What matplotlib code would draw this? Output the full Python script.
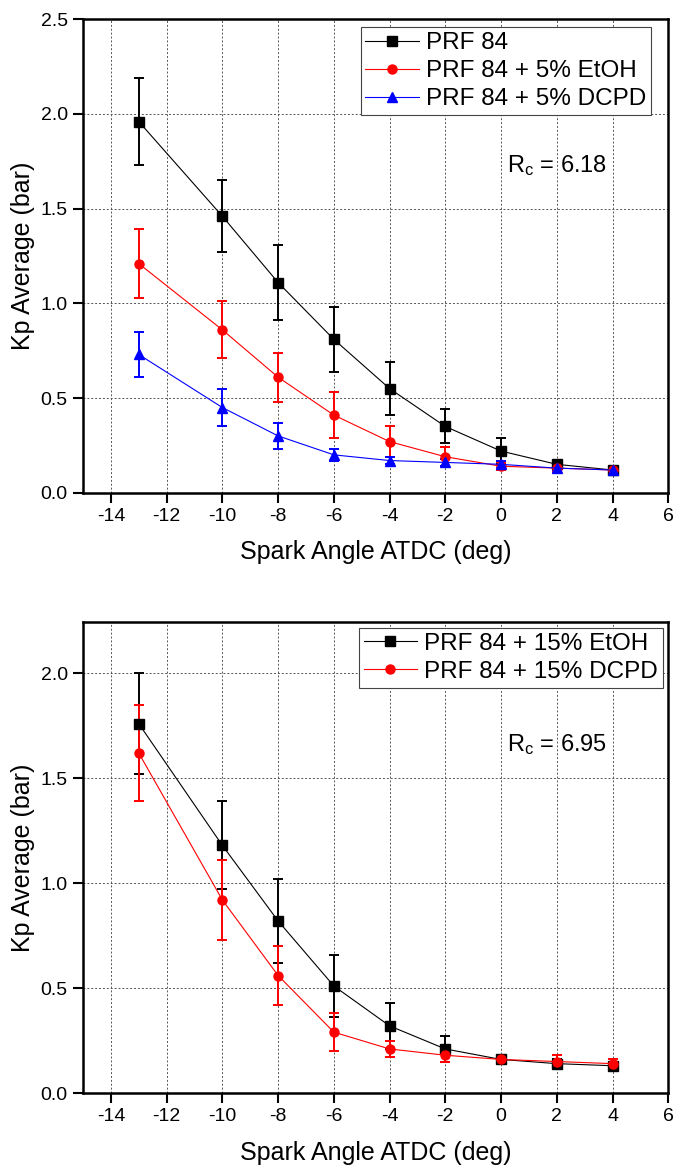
import numpy as np
import matplotlib
matplotlib.use('Agg')
import matplotlib.pyplot as plt
from matplotlib.lines import Line2D

plt.rcParams['font.family'] = ['Liberation Sans', 'DejaVu Sans']
plt.rcParams['mathtext.fontset'] = 'custom'
plt.rcParams['mathtext.rm'] = 'Liberation Sans'
plt.rcParams['mathtext.it'] = 'Liberation Sans'
plt.rcParams['axes.unicode_minus'] = False

# spark angles
angle = [-13, -10, -8, -6, -4, -2, 0, 2, 4]

# top panel (Rc = 6.18)
prf84 = [1.96, 1.46, 1.11, 0.81, 0.55, 0.35, 0.22, 0.15, 0.12]
prf84_err = [0.23, 0.19, 0.20, 0.17, 0.14, 0.09, 0.07, 0.02, 0.01]
etoh5 = [1.21, 0.86, 0.61, 0.41, 0.27, 0.19, 0.14, 0.13, 0.12]
etoh5_err = [0.18, 0.15, 0.13, 0.12, 0.08, 0.05, 0.02, 0.02, 0.01]
dcpd5 = [0.73, 0.45, 0.30, 0.20, 0.17, 0.16, 0.15, 0.13, 0.12]
dcpd5_err = [0.12, 0.10, 0.07, 0.03, 0.02, 0.02, 0.02, 0.01, 0.01]

# bottom panel (Rc = 6.95)
etoh15 = [1.76, 1.18, 0.82, 0.51, 0.32, 0.21, 0.16, 0.14, 0.13]
etoh15_err = [0.24, 0.21, 0.20, 0.15, 0.11, 0.06, 0.02, 0.02, 0.01]
dcpd15 = [1.62, 0.92, 0.56, 0.29, 0.21, 0.18, 0.16, 0.15, 0.14]
dcpd15_err = [0.23, 0.19, 0.14, 0.09, 0.04, 0.03, 0.02, 0.03, 0.02]

fig = plt.figure(figsize=(6.75, 11.69), dpi=100)
ax1 = fig.add_axes([0.123, 0.5785, 0.867, 0.405])
ax2 = fig.add_axes([0.123, 0.065, 0.867, 0.403])


def draw(ax, series, ylim, yticks, rc_text, rc_y, leg_anchor):
    handles = []
    for y, e, c, m, lab in series:
        ax.errorbar(angle, y, yerr=e, color=c, marker=m, markersize=6.5, lw=0.8,
                    elinewidth=1.4, capsize=3.5, capthick=1.4)
        handles.append(Line2D([], [], color=c, marker=m, markersize=6.5, lw=0.8, label=lab))
    ax.set_xlim(-15, 6)
    ax.set_ylim(*ylim)
    ax.set_xticks(range(-14, 7, 2))
    ax.set_yticks(yticks)
    ax.set_yticklabels(['%.1f' % t for t in yticks])
    ax.grid(True, color='#555555', linestyle=(0, (2, 2)), linewidth=0.7)
    ax.set_axisbelow(True)
    for s in ax.spines.values():
        s.set_linewidth(1.8)
    ax.tick_params(direction='out', length=7, width=1.5, labelsize=14,
                   top=False, right=False, pad=4)
    ax.set_xlabel('Spark Angle ATDC (deg)', fontsize=18, labelpad=11)
    ax.set_ylabel('Kp Average (bar)', fontsize=18, labelpad=4)
    leg = ax.legend(handles=handles, loc='upper right', bbox_to_anchor=leg_anchor,
                    fontsize=17.5, frameon=True, fancybox=False, framealpha=1,
                    handlelength=2.2, handletextpad=0.3, borderpad=0.2,
                    labelspacing=0.25, borderaxespad=0)
    leg.get_frame().set_edgecolor('#444444')
    leg.get_frame().set_linewidth(0.8)
    ax.text(0.2, rc_y, rc_text, fontsize=17, va='center')


draw(ax1, [(prf84, prf84_err, 'black', 's', 'PRF 84'),
           (etoh5, etoh5_err, 'red', 'o', 'PRF 84 + 5% EtOH'),
           (dcpd5, dcpd5_err, 'blue', '^', 'PRF 84 + 5% DCPD')],
     (0, 2.5), [0.0, 0.5, 1.0, 1.5, 2.0, 2.5], r'$\mathregular{R_c}$ = 6.18', 1.73,
     (0.971, 0.983))

draw(ax2, [(etoh15, etoh15_err, 'black', 's', 'PRF 84 + 15% EtOH'),
           (dcpd15, dcpd15_err, 'red', 'o', 'PRF 84 + 15% DCPD')],
     (0, 2.245), [0.0, 0.5, 1.0, 1.5, 2.0], r'$\mathregular{R_c}$ = 6.95', 1.66,
     (0.991, 0.987))

fig.savefig('out.png', dpi=100)
